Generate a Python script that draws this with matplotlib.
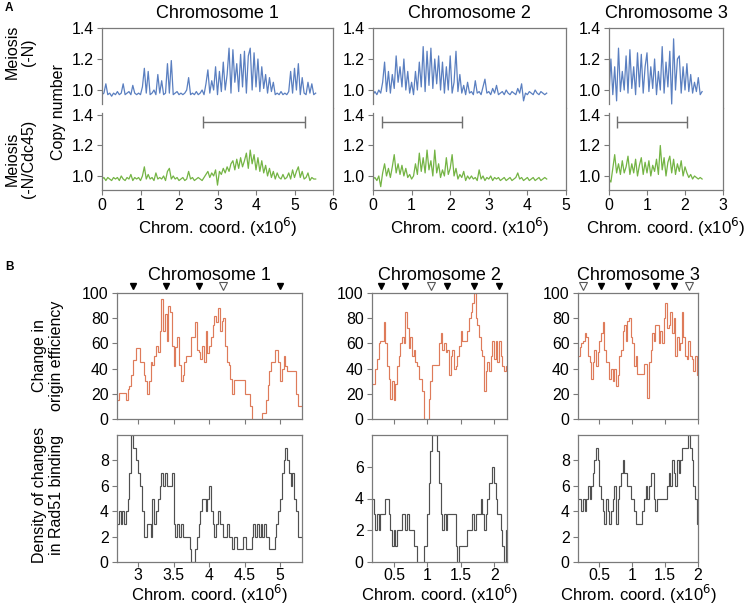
import numpy as np
import matplotlib
matplotlib.use("Agg")
import matplotlib.pyplot as plt

plt.rcParams['font.family'] = ['Liberation Sans', 'DejaVu Sans']

# ---------------- Panel A data (copy number, step 0.05 Mb) ----------------
A_STEP = 0.05
chr1_neg_n = [0.97,0.98,1.04,0.97,0.98,0.96,0.98,0.97,0.99,0.97,0.98,1.04,0.97,0.98,0.99,0.97,1.03,0.98,0.97,0.98,
              0.97,1.02,1.14,0.98,1.12,0.97,0.98,1.00,0.97,1.10,0.98,1.06,0.97,0.98,1.17,0.98,1.19,0.97,0.98,0.99,
              0.97,0.98,0.97,0.98,1.00,1.08,0.97,0.98,0.97,0.99,0.97,0.98,1.00,0.97,1.04,1.13,0.98,1.06,1.00,1.15,
              0.97,1.12,0.99,1.18,1.00,1.10,1.27,0.98,1.26,1.05,1.17,0.99,1.23,1.02,1.25,0.98,1.22,1.27,1.00,1.24,
              1.02,1.20,0.99,1.15,1.01,1.10,0.98,1.08,0.99,1.05,0.97,0.98,0.97,0.99,0.97,0.98,0.97,0.99,1.12,0.98,
              1.14,1.00,1.17,0.97,1.08,0.98,0.97,1.05,0.98,1.04,0.97,0.98]
chr1_cdc45 = [0.98,0.99,0.97,0.99,0.98,0.97,0.99,0.98,0.99,0.97,1.00,0.98,0.97,0.99,0.98,1.01,0.97,0.99,0.98,0.99,
              0.97,1.00,1.06,0.98,1.01,0.98,0.99,0.97,1.02,0.98,0.99,0.98,1.00,0.97,1.03,1.05,0.98,1.00,0.98,0.99,
              0.97,0.98,0.99,0.97,0.98,1.03,0.98,0.99,0.97,0.98,0.99,0.98,0.97,0.99,1.01,1.03,0.99,1.02,1.00,1.04,
              0.94,1.03,1.01,1.05,1.02,1.06,1.03,1.08,1.10,1.04,1.11,1.05,1.12,1.06,1.10,1.15,1.05,1.17,1.08,1.14,
              1.04,1.12,1.03,1.10,1.02,1.07,1.00,1.05,0.99,1.03,0.98,1.02,0.99,0.98,1.01,0.98,0.99,1.02,0.98,1.04,
              0.99,1.03,1.06,0.99,1.03,0.98,0.99,1.02,0.97,0.99,0.98,0.98]
chr2_neg_n = [0.97,0.99,0.97,1.00,0.98,1.05,1.18,0.99,1.12,0.98,1.10,1.01,1.22,1.05,1.15,1.02,1.20,1.00,1.12,0.98,
              1.05,0.97,1.12,1.00,1.18,1.02,1.28,0.99,1.25,1.03,1.27,1.01,1.20,1.04,1.22,1.00,1.18,0.98,1.15,1.00,
              1.22,0.98,1.05,1.25,0.99,1.10,0.98,1.03,0.97,1.05,0.98,0.99,0.97,1.06,0.98,0.99,0.97,1.02,1.07,0.98,
              0.99,0.97,1.01,0.98,1.03,0.97,0.98,0.99,0.97,1.00,0.98,0.97,0.99,0.98,0.97,1.01,0.98,1.04,0.93,0.98,
              0.97,0.99,0.98,0.97,1.00,0.98,0.97,0.99,0.98,0.97,0.98]
chr2_cdc45 = [0.98,0.99,0.97,1.00,0.93,1.02,1.08,1.00,1.05,0.99,1.06,1.14,1.02,1.08,1.01,1.07,1.00,1.05,0.99,1.01,
              0.98,1.00,1.08,1.01,1.15,1.03,1.12,1.02,1.17,1.04,1.10,1.00,1.17,1.02,1.08,0.99,1.04,1.00,1.12,1.01,
              1.05,1.14,1.00,1.05,0.98,1.01,0.99,1.03,0.97,1.00,0.98,1.00,0.98,0.99,0.97,1.04,0.98,1.00,0.97,0.99,
              0.98,1.00,0.97,0.99,0.98,0.99,0.97,0.98,0.99,0.97,0.98,0.99,0.97,0.98,0.99,1.02,0.98,0.99,0.97,0.98,
              0.99,0.97,0.98,0.99,0.97,0.98,0.99,0.97,0.98,0.99,0.98]
chr3_neg_n = [0.98,1.20,0.97,1.15,0.93,1.27,0.99,1.12,1.00,1.22,0.98,1.26,1.01,1.15,0.97,1.24,1.02,1.23,0.98,1.15,
              1.24,0.99,1.15,1.01,1.20,0.97,1.12,1.00,1.28,0.98,1.18,1.02,1.25,0.91,1.33,1.00,1.20,1.22,0.98,1.15,
              1.00,1.17,0.99,1.10,0.98,1.05,0.99,1.08,0.97,0.99]
chr3_cdc45 = [0.98,0.96,1.05,1.14,1.02,1.08,1.01,1.10,1.02,1.06,1.13,1.01,1.08,1.02,1.11,1.00,1.07,1.12,1.01,1.09,
              1.02,1.10,1.00,1.07,1.03,1.11,1.01,1.20,1.04,1.12,1.00,1.09,1.13,1.02,1.11,1.01,1.08,1.03,1.10,1.00,
              1.06,1.02,0.99,1.01,0.98,1.00,0.99,0.98,0.99,0.98]
# regions shown in panel B (x10^6)
region_bars = [(2.62, 5.27), (0.23, 2.31), (0.21, 2.05)]

# ---------------- Panel B data (step 0.025 Mb) ----------------
B_STEP = 0.025
b_start = [2.70, 0.17, 0.18]
orig_eff_chr1 = [15,21,21,21,21,15,24,26,35,47,47,56,56,45,45,35,30,20,30,45,
                 43,50,58,53,70,95,70,83,62,90,85,58,42,57,65,43,30,35,45,50,
                 50,50,65,65,77,55,53,48,58,45,70,52,58,65,75,82,77,88,70,78,
                 80,58,45,43,32,20,31,31,31,31,31,31,20,20,20,10,-10,-10,-10,-10,
                 -10,-10,5,5,15,27,38,45,45,55,55,45,30,40,50,42,38,38,38,38,
                 38,20,10,10,10]
rad51_chr1 = [3,4,3,4,3,4,5,7,10,9,9,8,7,6,4,2,2,3,3,2,
              5,3,4,5,6,7,6,7,6,6,6,7,3,2,3,2,3,2,2,2,
              2,1,0,0,1,2,3,4,5,5,4,5,6,4,3,2,3,4,3,3,
              2,2,3,2,2,1,2,2,1,1,1,2,2,1,1,1,2,3,2,3,
              2,3,2,3,2,2,1,1,1,2,3,4,5,7,8,9,8,7,6,7,
              5,4,2,2,2]
orig_eff_chr2 = [28,28,40,48,60,62,62,77,60,42,32,16,30,15,28,42,50,60,65,60,
                 85,72,56,65,50,55,45,42,32,32,22,-10,-10,-10,16,30,43,43,43,43,
                 60,68,55,60,53,55,35,50,55,40,42,50,58,70,62,62,62,70,80,85,
                 92,100,80,75,65,55,50,22,38,45,38,50,62,48,62,45,62,50,42,38,
                 42]
rad51_chr2 = [4,3,2,3,2,3,3,3,4,4,3,2,1,2,1,2,2,2,3,3,
              2,3,2,2,2,1,1,-1,-1,-1,-1,1,1,3,5,7,8,8,8,7,
              5,3,2,3,2,3,3,3,3,3,1,-1,1,1,1,1,1,2,2,2,
              3,2,3,3,3,4,3,2,3,4,5,5,6,5,4,3,3,2,1,0,
              2]
orig_eff_chr3 = [50,57,60,62,68,65,50,45,32,45,55,42,53,62,68,77,55,45,45,32,
                 40,30,40,26,35,50,55,70,75,62,78,80,65,60,42,50,36,36,36,36,
                 44,44,17,45,55,68,62,75,75,60,70,60,80,92,72,75,85,68,80,50,
                 65,55,60,85,65,50,48,62,50,48,38,50,35]
rad51_chr3 = [5,5,4,5,4,5,6,5,6,7,8,9,8,6,5,4,3,5,4,3,
              4,5,6,3,5,6,7,8,7,7,6,6,5,5,4,3,3,3,3,4,
              5,6,5,6,7,7,5,4,5,5,5,5,5,5,6,7,6,8,7,6,
              8,7,8,9,9,9,9,10,9,8,6,5,3]
# replication origin markers (x10^6): filled / open triangles
origins_filled = [[2.92, 3.39, 3.86, 5.0], [0.30, 0.67, 1.29, 1.69, 2.07], [0.53, 0.94, 1.36, 1.63]]
origins_open = [[4.20], [1.06], [0.26, 1.86]]

titles = ["Chromosome 1", "Chromosome 2", "Chromosome 3"]
A_xticks = [[0, 1, 2, 3, 4, 5, 6], [0, 1, 2, 3, 4, 5], [0, 1, 2, 3]]
A_yticks = [1.0, 1.2, 1.4]
A_ylabels = ["1.0", "1.2", "1.4"]
B_xticks = [[3, 3.5, 4, 4.5, 5], [0.5, 1, 1.5, 2], [0.5, 1, 1.5, 2]]
B_xlabels = [["3", "3.5", "4", "4.5", "5"], ["0.5", "1", "1.5", "2"], ["0.5", "1", "1.5", "2"]]
B_yticks_top = [0, 20, 40, 60, 80, 100]
B_yticks_bot = [[0, 2, 4, 6, 8], [0, 2, 4, 6], [0, 2, 4, 6, 8]]

# ---------------- styling / layout ----------------
W, H = 748, 606
fig = plt.figure(figsize=(W / 100, H / 100), dpi=100)

SP = '#7a7a7a'
BLUE = '#5a7fc0'
GREEN = '#74b444'
ORANGE = '#de7b5a'
GRAY = '#505050'
TICK_FS = 11.4
LAB_FS = 12.2
XLAB = "Chrom. coord. (x10$^{6}$)"


def rect(x0, x1, y0, y1):
    return [x0 / W, 1 - y1 / H, (x1 - x0) / W, (y1 - y0) / H]


def style(ax):
    for s in ax.spines.values():
        s.set_color(SP)
        s.set_linewidth(0.9)
    ax.tick_params(direction='out', length=3.5, width=0.8, color=SP,
                   labelsize=TICK_FS, pad=2.5, labelcolor='black')


A_x = [(102, 333), (373, 566), (609, 723)]
A_xlim = [(0, 6), (0, 5), (0, 3)]
A_top = [chr1_neg_n, chr2_neg_n, chr3_neg_n]
A_bot = [chr1_cdc45, chr2_cdc45, chr3_cdc45]

for i in range(3):
    x0, x1 = A_x[i]
    at = fig.add_axes(rect(x0, x1, 28, 108))
    ab = fig.add_axes(rect(x0, x1, 108, 190))
    for ax in (at, ab):
        style(ax)
        ax.set_xlim(*A_xlim[i])
        ax.set_yticks(A_yticks)
        ax.set_yticklabels(A_ylabels)
    at.set_ylim(0.884, 1.4)
    ab.set_ylim(0.908, 1.446)
    at.spines['bottom'].set_visible(False)
    ab.spines['top'].set_visible(False)
    at.spines['left'].set_bounds(0.91, 1.4)
    ab.spines['left'].set_bounds(0.908, 1.413)
    at.set_xticks([])
    ab.set_xticks(A_xticks[i])
    xs_t = np.arange(len(A_top[i])) * A_STEP
    xs_b = np.arange(len(A_bot[i])) * A_STEP
    at.plot(xs_t, A_top[i], color=BLUE, lw=0.9)
    ab.plot(xs_b, A_bot[i], color=GREEN, lw=0.9)
    a, b = region_bars[i]
    ab.errorbar([(a + b) / 2], [1.354], xerr=[[(b - a) / 2], [(b - a) / 2]],
                fmt='none', ecolor='#707070', elinewidth=1.0, capsize=4, capthick=1.0)
    fig.text((x0 + x1) / 2 / W, 1 - 227 / H, XLAB, ha='center', va='center', fontsize=LAB_FS)
    fig.text((x0 + x1) / 2 / W, 1 - 13 / H, titles[i], ha='center', va='center', fontsize=13)

fig.text(20 / W, 1 - 52 / H, "Meiosis\n(-N)", rotation=90, ha='center', va='center',
         fontsize=11.5, multialignment='center', linespacing=1.1)
fig.text(20 / W, 1 - 159 / H, "Meiosis\n(-N/Cdc45)", rotation=90, ha='center', va='center',
         fontsize=11.5, multialignment='center', linespacing=1.1)
fig.text(58 / W, 1 - 112 / H, "Copy number", rotation=90, ha='center', va='center', fontsize=11.5)

B_x = [(117, 302), (372, 507), (578, 698)]
B_xlim = [(2.70, 5.31), (0.17, 2.19), (0.18, 2.0)]
B_ylim_bot = [(0, 10), (0, 8), (0, 10)]
B_top = [orig_eff_chr1, orig_eff_chr2, orig_eff_chr3]
B_bot = [rad51_chr1, rad51_chr2, rad51_chr3]

for i in range(3):
    x0, x1 = B_x[i]
    bt = fig.add_axes(rect(x0, x1, 293, 419))
    bb = fig.add_axes(rect(x0, x1, 435, 562))
    for ax in (bt, bb):
        style(ax)
        ax.set_xlim(*B_xlim[i])
        ax.set_xticks(B_xticks[i])
    bb.tick_params(axis='x', pad=1.0)
    bt.set_xticklabels([])
    bb.set_xticklabels(B_xlabels[i])
    bt.set_ylim(0, 100)
    bt.set_yticks(B_yticks_top)
    bb.set_ylim(*B_ylim_bot[i])
    bb.set_yticks(B_yticks_bot[i])
    et = b_start[i] + np.arange(len(B_top[i]) + 1) * B_STEP
    eb = b_start[i] + np.arange(len(B_bot[i]) + 1) * B_STEP
    bt.stairs(B_top[i], et, baseline=None, color=ORANGE, lw=0.85)
    bb.stairs(B_bot[i], eb, baseline=None, color=GRAY, lw=0.85)
    tr = bt.get_xaxis_transform()
    bt.plot(origins_filled[i], [1.058] * len(origins_filled[i]), transform=tr, ls='none',
            marker='v', ms=5, color='black', clip_on=False)
    bt.plot(origins_open[i], [1.058] * len(origins_open[i]), transform=tr, ls='none',
            marker='v', ms=5.5, mfc='white', mec='#555555', mew=0.8, clip_on=False)
    fig.text((x0 + x1) / 2 / W, 1 - 605.5 / H, XLAB, ha='center', va='bottom', fontsize=12.0)
    fig.text((x0 + x1) / 2 / W, 1 - 276 / H, titles[i], ha='center', va='center', fontsize=13)

fig.text(48 / W, 1 - 356 / H, "Change in\norigin efficiency", rotation=90, ha='center', va='center',
         fontsize=11.5, multialignment='center', linespacing=1.2)
fig.text(48 / W, 1 - 495 / H, "Density of changes\nin Rad51 binding", rotation=90, ha='center',
         va='center', fontsize=11.5, multialignment='center', linespacing=1.2)

fig.text(9 / W, 1 - 8 / H, "A", fontweight='bold', fontsize=8.5, ha='center', va='center')
fig.text(9 / W, 1 - 267 / H, "B", fontweight='bold', fontsize=8.5, ha='center', va='center')

fig.savefig("out.png", dpi=100)
